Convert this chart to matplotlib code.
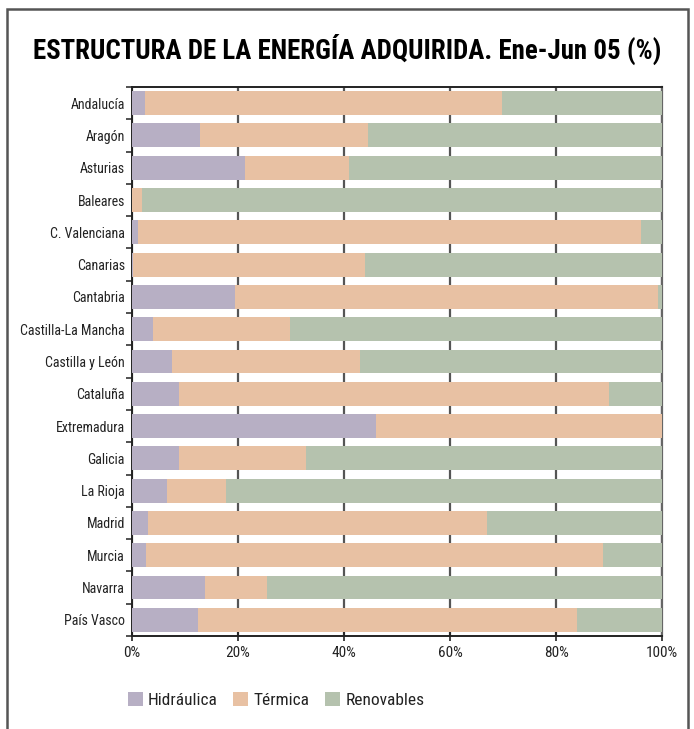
import matplotlib
matplotlib.use('Agg')
import matplotlib.pyplot as plt
from matplotlib.patches import Rectangle
import numpy as np

plt.rcParams['font.family'] = ['Roboto Condensed', 'DejaVu Sans']

regions = ['Andalucía', 'Aragón', 'Asturias', 'Baleares', 'C. Valenciana',
           'Canarias', 'Cantabria', 'Castilla-La Mancha', 'Castilla y León',
           'Cataluña', 'Extremadura', 'Galicia', 'La Rioja', 'Madrid',
           'Murcia', 'Navarra', 'País Vasco']
hidraulica = [2.5, 12.8, 21.3, 0.0, 1.1, 0.3, 19.4, 4.0, 7.5, 8.9, 46.0,
              8.9, 6.6, 3.0, 2.6, 13.8, 12.4]
termica = [67.3, 31.7, 19.6, 1.9, 94.9, 43.7, 79.8, 25.8, 35.5, 81.1, 54.0,
           23.9, 11.1, 64.0, 86.3, 11.7, 71.6]
renovables = [100 - h - t for h, t in zip(hidraulica, termica)]

c_hid = '#b7afc4'
c_ter = '#e8c1a3'
c_ren = '#b5c2ae'

fig = plt.figure(figsize=(6.94, 7.29), dpi=100)
ax = fig.add_axes([0.190, 0.1276, 0.764, 0.7531])

y = np.arange(len(regions))
h = np.array(hidraulica)
t = np.array(termica)
r = np.array(renovables)
bh = 0.74
ax.barh(y, h, height=bh, color=c_hid, label='Hidráulica', zorder=3)
ax.barh(y, t, left=h, height=bh, color=c_ter, label='Térmica', zorder=3)
ax.barh(y, r, left=h + t, height=bh, color=c_ren, label='Renovables', zorder=3)

ax.set_xlim(0, 100)
ax.set_ylim(len(regions) - 0.5, -0.5)
ax.set_xticks([0, 20, 40, 60, 80, 100])
ax.set_xticklabels(['0%', '20%', '40%', '60%', '80%', '100%'])
ax.set_yticks(y)
ax.set_yticklabels(regions)
ax.set_yticks(np.arange(-0.5, len(regions), 1), minor=True)
ax.tick_params(axis='y', which='major', length=0, pad=5, labelsize=10,
               labelcolor='#222222')
ax.tick_params(axis='y', which='minor', length=4, width=1.2, color='#333333')
ax.tick_params(axis='x', length=7, width=1.2, direction='inout', pad=4,
               labelsize=11, color='#222222', labelcolor='#222222')

ax.grid(axis='x', color='#555555', linewidth=1.6, zorder=1)
for s in ['left', 'bottom', 'top']:
    ax.spines[s].set_color('#222222')
    ax.spines[s].set_linewidth(1.4)
ax.spines['right'].set_color('#666666')
ax.spines['right'].set_linewidth(1.6)

fig.text(0.5, 0.932, 'ESTRUCTURA DE LA ENERGÍA ADQUIRIDA. Ene-Jun 05 (%)',
         ha='center', va='center', fontsize=19.4, fontweight='bold')

fig.legend(loc='center left', bbox_to_anchor=(119 / 694, 0.04), ncol=3,
           frameon=False, fontsize=12.5, borderpad=0, handlelength=0.86,
           handleheight=0.9, handletextpad=0.3, columnspacing=0.9,
           labelcolor='#222222')

fig.patches.append(Rectangle((7 / 694, -0.05), 681 / 694, 1 - 9 / 729 + 0.05,
                             transform=fig.transFigure, fill=False,
                             edgecolor='#555555', linewidth=1.8))

plt.savefig('out.png', dpi=100)
